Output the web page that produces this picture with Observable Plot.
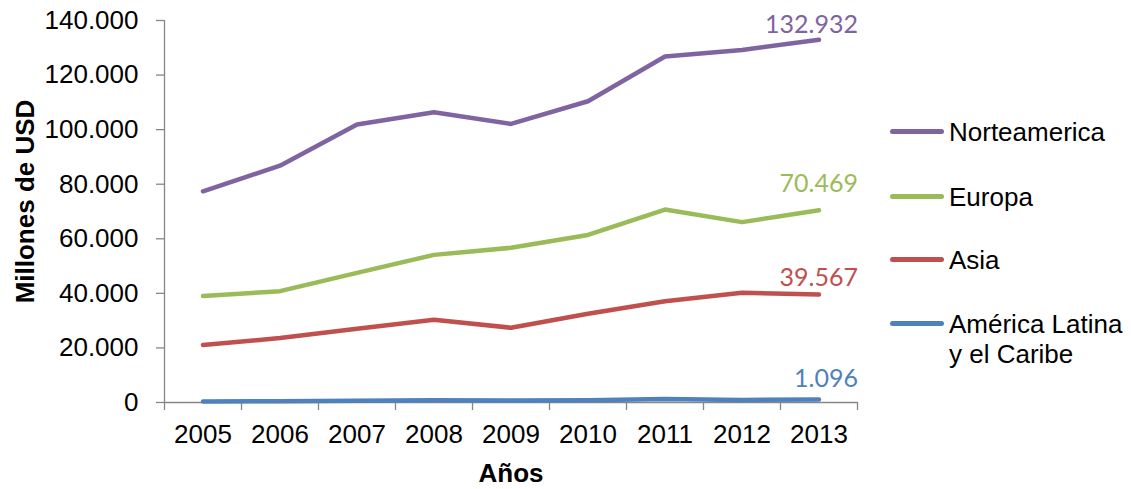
<!DOCTYPE html>
<html>
<head>
<meta charset="utf-8">
<script src="https://cdn.jsdelivr.net/npm/d3@7"></script>
<script src="https://cdn.jsdelivr.net/npm/@observablehq/plot@0.6"></script>
<style>
  html, body { margin: 0; padding: 0; background: #fff; }
  #wrap { position: relative; width: 1131px; height: 489px; }
  .leg-sw { position: absolute; left: 890px; width: 54px; height: 5px; border-radius: 3px; }
  .leg-tx { position: absolute; left: 949px; font-family: "Liberation Sans", Arial, sans-serif; font-size: 26px; line-height: 30px; color: #000; white-space: nowrap; }
</style>
</head>
<body>
<div id="wrap"></div>
<script>
// ---- data ----
const years = [2005, 2006, 2007, 2008, 2009, 2010, 2011, 2012, 2013];
const norteamerica = [77400, 86800, 101900, 106400, 102100, 110400, 126800, 129200, 132932];
const europa = [39000, 40800, 47500, 54100, 56700, 61400, 70700, 66100, 70469];
const asia = [21100, 23600, 27000, 30300, 27400, 32500, 37100, 40200, 39567];
const americaLatina = [350, 450, 650, 800, 750, 850, 1300, 950, 1096];
const seriesNames = ["Norteamerica", "Europa", "Asia", "América Latina\ny el Caribe"];
const seriesColors = ["#8064A2", "#9BBB59", "#C0504D", "#4F81BD"];
const yTicks = [0, 20000, 40000, 60000, 80000, 100000, 120000, 140000];
const yLabel = "Millones de USD";
const xLabel = "Años";

// ---- build ----
const allValues = [norteamerica, europa, asia, americaLatina];
const rows = [];
allValues.forEach((vals, s) => vals.forEach((v, i) => rows.push({serie: s, year: years[i], value: v})));
const fmt = d => String(d).replace(/\B(?=(\d{3})+(?!\d))/g, ".");
const xBounds = [...years.map(y => y - 0.5), years[years.length - 1] + 0.5];
const axisColor = "#868686";
const labelDy = [-7, -18, -9, -13];
const FONT = "'Liberation Sans', Arial, sans-serif";

const lastLabels = allValues.map((vals, s) =>
  Plot.text([{year: years[years.length - 1], value: vals[vals.length - 1]}], {
    x: "year", y: "value", text: d => fmt(d.value),
    dx: 39, dy: labelDy[s], textAnchor: "end", lineAnchor: "bottom",
    fill: seriesColors[s], fontFamily: "Lato, 'Open Sans', sans-serif", fontSize: 25
  })
);

const chart = Plot.plot({
  width: 1131,
  height: 489,
  marginLeft: 164,
  marginRight: 274,
  marginTop: 20,
  marginBottom: 87,
  style: {fontFamily: FONT, fontSize: "26px", color: "#000", background: "#fff", overflow: "visible"},
  x: {type: "linear", domain: [2004.5, 2013.5]},
  y: {domain: [0, 140000]},
  marks: [
    Plot.axisY({ticks: yTicks, tickSize: 8, tickFormat: () => "", stroke: axisColor, strokeWidth: 1.3, label: null}),
    Plot.axisX({ticks: xBounds, tickSize: 8, tickFormat: () => "", stroke: axisColor, strokeWidth: 1.3, label: null}),
    Plot.ruleX([2004.5], {y1: 0, y2: 140000, stroke: axisColor, strokeWidth: 1.3}),
    Plot.ruleY([0], {x1: 2004.5, x2: 2013.5, stroke: axisColor, strokeWidth: 1.3}),
    Plot.text(yTicks, {y: d => d, frameAnchor: "left", dx: -26, textAnchor: "end", lineAnchor: "middle", text: fmt, fill: "#000", fontSize: 26, fontFamily: FONT}),
    Plot.text(years, {x: d => d, frameAnchor: "bottom", dy: 40, lineAnchor: "bottom", text: d => String(d), fill: "#000", fontSize: 26, fontFamily: FONT}),
    Plot.text([xLabel], {frameAnchor: "bottom", dy: 79, lineAnchor: "bottom", fontWeight: "bold", fontSize: 26, fill: "#000", fontFamily: FONT}),
    Plot.text([yLabel], {frameAnchor: "left", textAnchor: "middle", rotate: -90, dx: -131, dy: -10, lineAnchor: "bottom", fontWeight: "bold", fontSize: 26, fill: "#000", fontFamily: FONT}),
    Plot.line(rows, {x: "year", y: "value", z: "serie", stroke: d => seriesColors[d.serie], strokeWidth: 4.5, strokeLinecap: "round", strokeLinejoin: "round"}),
    ...lastLabels
  ]
});

const wrap = document.getElementById("wrap");
wrap.appendChild(chart);

// legend (HTML)
const legendCenters = [131, 196, 259, 323];
seriesNames.forEach((name, i) => {
  const sw = document.createElement("div");
  sw.className = "leg-sw";
  sw.style.top = (legendCenters[i] - 2.5) + "px";
  sw.style.background = seriesColors[i];
  wrap.appendChild(sw);
  const tx = document.createElement("div");
  tx.className = "leg-tx";
  tx.style.top = (legendCenters[i] - 14.3) + "px";
  tx.innerHTML = name.split("\n").join("<br>");
  wrap.appendChild(tx);
});
</script>
</body>
</html>
